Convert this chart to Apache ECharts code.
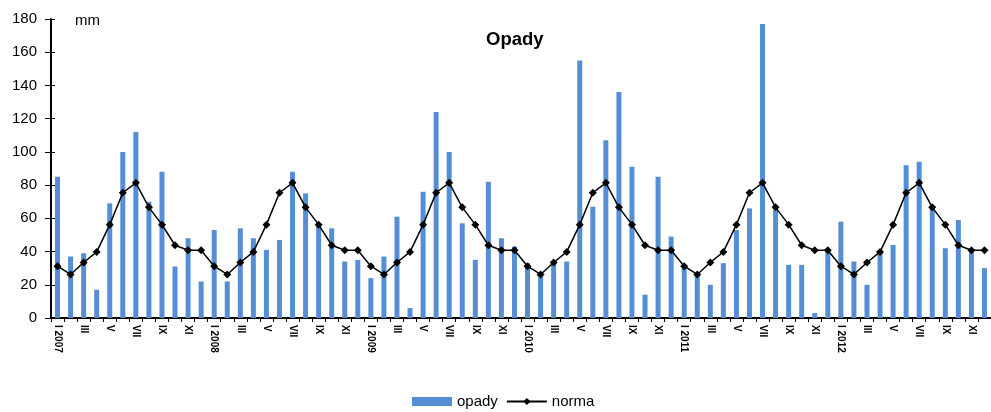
<!DOCTYPE html>
<html><head><meta charset="utf-8">
<script src="https://cdn.jsdelivr.net/npm/echarts@6/dist/echarts.min.js"></script>
<style>html,body{margin:0;padding:0;background:#fff}#c{width:991px;height:412px}</style>
</head><body><div id="c"></div>
<script>
const months = ['I','II','III','IV','V','VI','VII','VIII','IX','X','XI','XII'];
const years = [2007, 2008, 2009, 2010, 2011, 2012];
const categories = [];
years.forEach(y => months.forEach((m, i) => categories.push(i === 0 ? m + ' ' + y : m)));

const opady = [
  85, 37, 39, 17, 69, 100, 112, 70, 88, 31, 48, 22,
  53, 22, 54, 48, 41, 47, 88, 75, 57, 54, 34, 35,
  24, 37, 61, 6, 76, 124, 100, 57, 35, 82, 48, 43,
  33, 26, 33, 34, 155, 67, 107, 136, 91, 14, 85, 49,
  31, 27, 20, 33, 53, 66, 177, 65, 32, 32, 3, 41,
  58, 34, 20, 40, 44, 92, 94, 67, 42, 59, 41, 30
];
const norma = [
  31.2, 26.2, 33.4, 39.8, 56.2, 75.4, 81.4, 66.6, 56.2, 43.8, 40.8, 40.8,
  31.2, 26.2, 33.4, 39.8, 56.2, 75.4, 81.4, 66.6, 56.2, 43.8, 40.8, 40.8,
  31.2, 26.2, 33.4, 39.8, 56.2, 75.4, 81.4, 66.6, 56.2, 43.8, 40.8, 40.8,
  31.2, 26.2, 33.4, 39.8, 56.2, 75.4, 81.4, 66.6, 56.2, 43.8, 40.8, 40.8,
  31.2, 26.2, 33.4, 39.8, 56.2, 75.4, 81.4, 66.6, 56.2, 43.8, 40.8, 40.8,
  31.2, 26.2, 33.4, 39.8, 56.2, 75.4, 81.4, 66.6, 56.2, 43.8, 40.8, 40.8
];
const yTicks = { min: 0, max: 180, interval: 20 };

const FONT = '"Liberation Sans", Arial, sans-serif';
const chart = echarts.init(document.getElementById('c'), null, { renderer: 'canvas' });
chart.setOption({
  animation: false,
  backgroundColor: '#fff',
  textStyle: { fontFamily: FONT },
  grid: { left: 51, top: 19, width: 941, bottom: 94, containLabel: false },
  graphic: [
    { type: 'text', left: 486, top: 30, style: { text: 'Opady', font: 'bold 18.5px ' + FONT, fill: '#000' } },
    { type: 'text', left: 75, top: 13, style: { text: 'mm', font: '15px ' + FONT, fill: '#000' } }
  ],
  legend: {
    left: 412, top: 394, padding: 0,
    itemWidth: 40, itemHeight: 9, itemGap: 8,
    textStyle: { fontSize: 15, color: '#000', fontFamily: FONT },
    data: [{ name: 'opady', icon: 'rect' }, { name: 'norma' }]
  },
  xAxis: {
    type: 'category', data: categories, boundaryGap: true,
    axisLine: { lineStyle: { color: '#000', width: 2 } },
    axisTick: { show: true, interval: 0, length: 4, lineStyle: { color: '#000' } },
    axisLabel: { interval: 1, rotate: -90, fontSize: 10, fontWeight: 'bold', color: '#000', margin: 7, fontFamily: FONT },
    splitLine: { show: false }
  },
  yAxis: [
    {
      type: 'value', min: yTicks.min, max: yTicks.max, interval: yTicks.interval,
      axisLine: { show: true, lineStyle: { color: '#000', width: 2 } },
      axisTick: { show: true, length: 6, lineStyle: { color: '#000', width: 1 } },
      axisLabel: { fontSize: 15, color: '#000', margin: 14, fontFamily: FONT },
      splitLine: { show: false }
    },
    {
      type: 'value', position: 'left', min: yTicks.min, max: yTicks.max, interval: yTicks.interval,
      axisLine: { show: false },
      axisTick: { show: true, inside: true, length: 4, lineStyle: { color: '#000', width: 1 } },
      axisLabel: { show: false },
      splitLine: { show: false }
    }
  ],
  series: [
    {
      name: 'opady', type: 'bar', data: opady, barWidth: 5,
      itemStyle: { color: '#558ed5' }
    },
    {
      name: 'norma', type: 'line', data: norma, z: 5,
      symbol: 'diamond', symbolSize: 8,
      lineStyle: { color: '#000', width: 1.5 },
      itemStyle: { color: '#000' }
    }
  ]
});
</script>
</body></html>
